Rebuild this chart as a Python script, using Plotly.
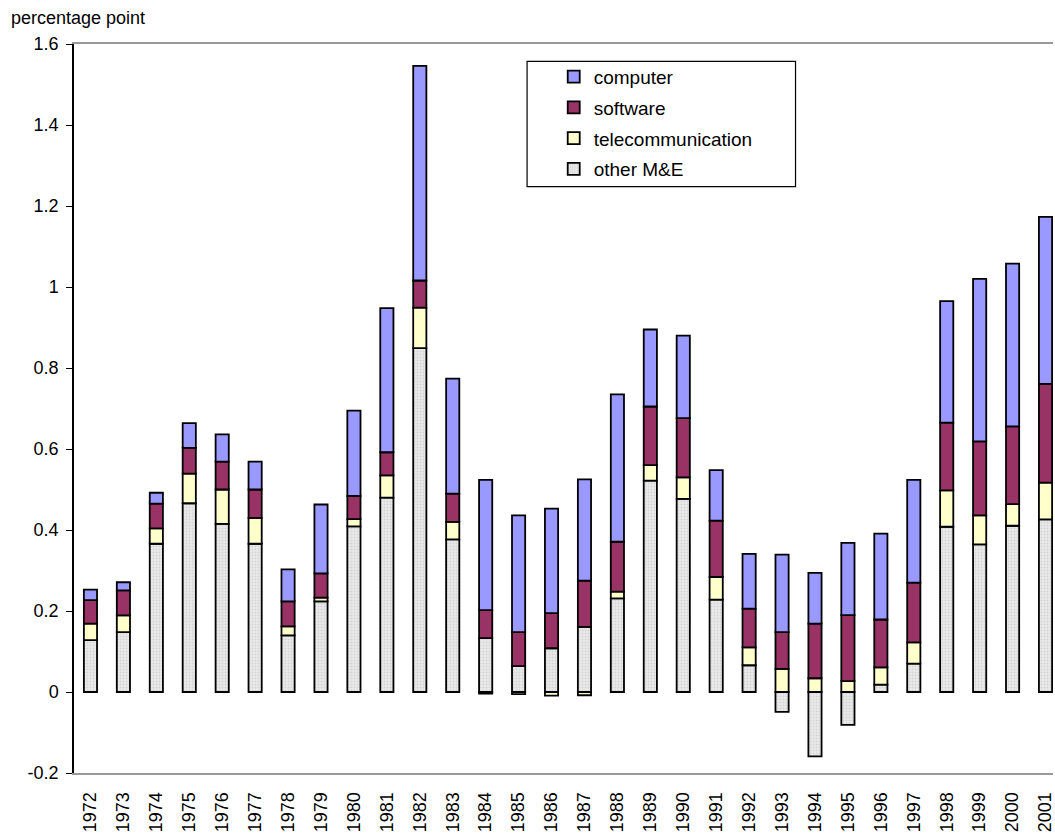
import plotly.graph_objects as go

years = [str(y) for y in range(1972, 2002)]

other_me = [0.128, 0.148, 0.366, 0.466, 0.415, 0.366, 0.140, 0.224, 0.409, 0.480,
            0.849, 0.377, 0.133, 0.064, 0.108, 0.161, 0.231, 0.522, 0.477, 0.228,
            0.066, -0.049, -0.159, -0.081, 0.018, 0.070, 0.408, 0.3645, 0.4105, 0.426]
telecom = [0.041, 0.041, 0.038, 0.073, 0.085, 0.064, 0.022, 0.009, 0.018, 0.055,
           0.100, 0.043, -0.004, -0.005, -0.009, -0.008, 0.017, 0.038, 0.053, 0.056,
           0.044, 0.057, 0.034, 0.027, 0.043, 0.0525, 0.090, 0.0715, 0.0535, 0.091]
software = [0.058, 0.062, 0.061, 0.064, 0.069, 0.070, 0.062, 0.060, 0.057, 0.057,
            0.067, 0.070, 0.069, 0.084, 0.087, 0.114, 0.123, 0.145, 0.146, 0.139,
            0.096, 0.091, 0.135, 0.163, 0.118, 0.1475, 0.167, 0.183, 0.192, 0.244]
computer = [0.026, 0.020, 0.027, 0.061, 0.067, 0.069, 0.079, 0.170, 0.211, 0.356,
            0.530, 0.284, 0.322, 0.288, 0.258, 0.250, 0.364, 0.190, 0.204, 0.125,
            0.135, 0.191, 0.125, 0.178, 0.212, 0.254, 0.300, 0.401, 0.4015, 0.412]

ytick_vals = [-0.2, 0, 0.2, 0.4, 0.6, 0.8, 1.0, 1.2, 1.4, 1.6]
ytick_text = ["-0.2", "0", "0.2", "0.4", "0.6", "0.8", "1", "1.2", "1.4", "1.6"]

FONT = "Liberation Sans, Arial, sans-serif"
line = dict(color="black", width=1.8)

fig = go.Figure()
fig.add_trace(go.Bar(x=years, y=other_me, name="other M&E", legendgroup="d", legendrank=4,
                     marker=dict(color="#E4E4E4", line=line,
                                 pattern=dict(shape=".", fgcolor="#BDBDBD", bgcolor="#E9E9E9",
                                              size=3, solidity=0.3))))
fig.add_trace(go.Bar(x=years, y=telecom, name="telecommunication", legendgroup="c", legendrank=3,
                     marker=dict(color="#FFFFCC", line=line)))
fig.add_trace(go.Bar(x=years, y=software, name="software", legendgroup="b", legendrank=2,
                     marker=dict(color="#993366", line=line)))
fig.add_trace(go.Bar(x=years, y=computer, name="computer", legendgroup="a", legendrank=1,
                     marker=dict(color="#9999FF", line=line)))

n = len(years)
xr = [-0.5, -0.5 + 981 / 33]

fig.update_layout(
    width=1055, height=833,
    margin=dict(l=74, r=0, t=44, b=60),
    paper_bgcolor="white", plot_bgcolor="white",
    barmode="relative", bargap=0.6,
    font=dict(family=FONT, size=18, color="black"),
    showlegend=True,
    legend=dict(x=0.49, y=0.981, xanchor="left", yanchor="top",
                traceorder="grouped", tracegroupgap=3,
                bgcolor="rgba(0,0,0,0)", borderwidth=0,
                font=dict(family=FONT, size=19, color="black")),
    xaxis=dict(type="category", range=xr, showgrid=False, zeroline=False,
               showline=True, linecolor="#999999", linewidth=2, mirror=True,
               ticks="outside", ticklen=10, tickcolor="rgba(0,0,0,0)",
               tickangle=-90, tickfont=dict(family=FONT, size=18)),
    xaxis2=dict(type="linear", overlaying="x", anchor="free", position=0.2 / 1.8,
                range=xr, showgrid=False, zeroline=False,
                showline=True, linecolor="black", linewidth=1.5,
                ticks="outside", ticklen=6, tickwidth=1.3, tickcolor="black",
                tickmode="array", tickvals=[i + 0.5 for i in range(n - 1)],
                showticklabels=False),
    yaxis=dict(range=[-0.2, 1.6], showgrid=False, zeroline=False,
               showline=True, linecolor="black", linewidth=1.5,
               ticks="outside", ticklen=6, tickwidth=1.3, tickcolor="black",
               tickmode="array", tickvals=ytick_vals, ticktext=ytick_text,
               ticklabelstandoff=4, tickfont=dict(family=FONT, size=18)),
    shapes=[dict(type="rect", xref="paper", yref="paper",
                 x0=(528 - 74) / 981, x1=(797 - 74) / 981,
                 y0=(773 - 186.7) / 729, y1=(773 - 61.3) / 729,
                 line=dict(color="black", width=1.2), fillcolor="rgba(0,0,0,0)")],
    annotations=[dict(text="percentage point", xref="paper", yref="paper",
                      x=-65 / 981, y=1 + 38 / 729, xanchor="left", yanchor="top",
                      showarrow=False, font=dict(family=FONT, size=18, color="black"))],
)

fig.write_html("out.html", config={"displayModeBar": False},
               post_script="document.body.style.margin='0';document.body.style.overflow='hidden';")
